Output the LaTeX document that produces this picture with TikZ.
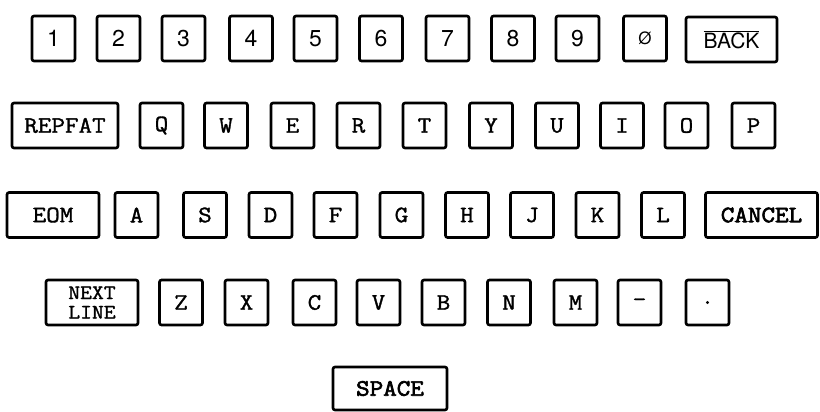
\documentclass[tikz,border=0pt]{standalone}
\usepackage{fontspec}
\setsansfont{TeX Gyre Heros}
\newfontfamily\keyfont[FakeBold=1.4, FakeStretch=1.12]{Latin Modern Mono}
\newfontfamily\keyboldfont[FakeBold=2.8, FakeStretch=1.12]{Latin Modern Mono}
\begin{document}
\begin{tikzpicture}[x=1pt,y=-1pt,
  key/.style={draw, line width=2.6pt, rounded corners=2pt, minimum width=43pt, minimum height=45pt, inner sep=0pt, font=\fontsize{23.5}{23.5}\selectfont\keyfont},
  digit/.style={key, font=\fontsize{23}{23}\selectfont\sffamily},
  boldkey/.style={key, font=\fontsize{23.5}{23.5}\selectfont\keyboldfont},
  wide/.style={minimum width=#1}]
\useasboundingbox (0,0) rectangle (820,412);
% row 1
\node[digit] (k1) at (53.5,38.5) {1};
\node[digit] (k2) at (118.5,38.5) {2};
\node[digit] (k3) at (183.5,38.5) {3};
\node[digit] (k4) at (251,38.5) {4};
\node[digit] (k5) at (315.5,38.5) {5};
\node[digit] (k6) at (381,38.5) {6};
\node[digit] (k7) at (447.5,38.5) {7};
\node[digit] (k8) at (513,38.5) {8};
\node[digit] (k9) at (577.5,38.5) {9};
\node[digit, font=\fontsize{17}{17}\selectfont\sffamily] (k0) at (645,38.5) {Ø};
\node[digit, wide=91pt, font=\fontsize{21}{21}\selectfont\sffamily] (kback) at (731.5,39.5) {$\overline{\mbox{BACK}}$};
% row 2
\node[key, wide=106pt] (krepeat) at (65,125.5) {REPFAT};
\node[key] (kq) at (161.5,125.5) {Q};
\node[key] (kw) at (226,125.5) {W};
\node[key] (ke) at (292.5,125.5) {E};
\node[key] (kr) at (358.5,125.5) {R};
\node[key] (kt) at (424.5,125.5) {T};
\node[key] (ky) at (491,125.5) {Y};
\node[key] (ku) at (557,125.5) {U};
\node[key] (ki) at (622,125.5) {I};
\node[key] (ko) at (686.5,125.5) {O};
\node[key] (kp) at (753.5,125.5) {P};
% row 3
\node[key, wide=92pt] (keom) at (53,215) {EOM};
\node[key] (ka) at (136.5,215) {A};
\node[key] (ks) at (205,215) {S};
\node[key] (kd) at (270.5,215) {D};
\node[key] (kf) at (335.5,215) {F};
\node[key] (kg) at (401.5,215) {G};
\node[key] (kh) at (467,215) {H};
\node[key] (kj) at (532,215) {J};
\node[key] (kk) at (597.5,215) {K};
\node[key] (kl) at (663,215) {L};
\node[boldkey, wide=112pt] (kcancel) at (761.5,215) {CANCEL};
% row 4
\node[key, wide=92pt, align=center, font=\fontsize{20.5}{19.5}\selectfont\keyfont] (knext) at (92,302.5) {NEXT\\LINE};
\node[key] (kz) at (181,302.5) {Z};
\node[key] (kx) at (246.5,302.5) {X};
\node[key] (kc) at (314.5,302.5) {C};
\node[key] (kv) at (378.5,302.5) {V};
\node[key] (kb) at (443.5,302.5) {B};
\node[key] (kn) at (509,302.5) {N};
\node[key] (km) at (575.5,302.5) {M};
\node[key] (kminus) at (639.5,302.5) {-};
\node[key] (kdot) at (707.5,302.5) {.};
% row 5
\node[boldkey, wide=114pt, minimum height=43pt] (kspace) at (390,388.5) {SPACE};
\end{tikzpicture}
\end{document}
